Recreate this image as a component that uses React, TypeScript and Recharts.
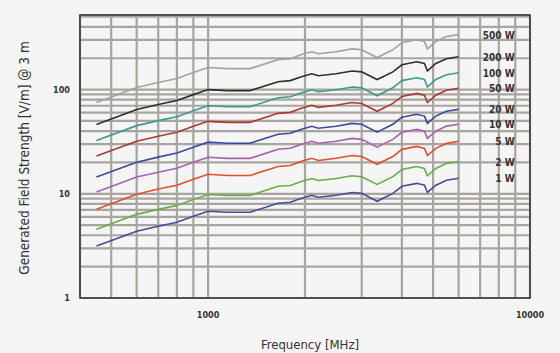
import React from "react";
import { LineChart, Line, XAxis, YAxis, CartesianGrid, ReferenceArea, LabelList } from "recharts";

const frequencies = [450, 600, 700, 800, 900, 1000, 1150, 1350, 1650, 1800, 1950, 2100, 2200, 2500, 2800, 3000, 3350, 3750, 4000, 4450, 4700, 4800, 5100, 5500, 6000];

const w1 = [3.15, 4.38, 4.89, 5.34, 6.09, 6.8, 6.65, 6.65, 8.11, 8.29, 9.06, 9.68, 9.26, 9.68, 10.3, 10.1, 8.48, 10.1, 11.8, 12.6, 12.1, 10.3, 12.1, 13.5, 14.1];
const w2 = [4.57, 6.35, 7.09, 7.74, 8.83, 9.86, 9.64, 9.64, 11.8, 12.0, 13.1, 14.0, 13.4, 14.0, 14.9, 14.6, 12.3, 14.6, 17.1, 18.3, 17.5, 14.9, 17.5, 19.6, 20.4];
const w5 = [7.12, 9.9, 11.1, 12.1, 13.8, 15.4, 15.0, 15.0, 18.3, 18.7, 20.5, 21.9, 20.9, 21.9, 23.3, 22.8, 19.2, 22.8, 26.7, 28.5, 27.3, 23.3, 27.3, 30.5, 31.9];
const w10 = [10.4, 14.5, 16.1, 17.6, 20.1, 22.4, 21.9, 21.9, 26.8, 27.4, 29.9, 31.9, 30.6, 31.9, 34.0, 33.3, 28.0, 33.3, 38.9, 41.6, 39.9, 34.0, 39.9, 44.6, 46.5];
const w20 = [14.5, 20.1, 22.5, 24.6, 28.0, 31.3, 30.6, 30.6, 37.3, 38.1, 41.7, 44.5, 42.6, 44.5, 47.4, 46.5, 39.0, 46.5, 54.3, 58.0, 55.7, 47.4, 55.7, 62.1, 64.9];
const w50 = [23.0, 32.0, 35.7, 39.0, 44.5, 49.6, 48.5, 48.5, 59.2, 60.5, 66.1, 70.7, 67.6, 70.7, 75.2, 73.7, 61.9, 73.7, 86.1, 92.0, 88.3, 75.2, 88.3, 98.6, 103];
const w100 = [32.4, 45.1, 50.4, 55.0, 62.7, 70.0, 68.5, 68.5, 83.5, 85.4, 93.3, 99.7, 95.4, 99.7, 106, 104, 87.3, 104, 122, 130, 125, 106, 125, 139, 145];
const w200 = [46.3, 64.4, 71.9, 78.5, 89.5, 100, 97.8, 97.8, 119, 122, 133, 142, 136, 142, 151, 148, 125, 148, 173, 185, 178, 151, 178, 198, 207];
const w500 = [75.3, 105, 117, 128, 146, 163, 159, 159, 194, 198, 217, 231, 221, 231, 246, 241, 203, 241, 282, 301, 289, 246, 289, 323, 337];

const seriesNames = ["1 W", "2 W", "5 W", "10 W", "20 W", "50 W", "100 W", "200 W", "500 W"];
const seriesValues = [w1, w2, w5, w10, w20, w50, w100, w200, w500];
const seriesColors = ["#4a4a98", "#6aab4a", "#e0502e", "#a862a8", "#3b4b9c", "#a83a30", "#3d9a90", "#2e2e2e", "#a2a2a2"];

const xTicks = [400, 500, 600, 700, 800, 900, 1000, 2000, 3000, 4000, 5000, 6000, 7000, 8000, 9000, 10000];
const xLabels = [1000, 10000];
const yTicks = [1, 2, 3, 4, 5, 6, 7, 8, 9, 10, 20, 30, 40, 50, 60, 70, 80, 90, 100, 200, 300, 400, 500];
const yLabels = [1, 10, 100];

const yTitle = "Generated Field Strength [V/m] @ 3 m";
const xTitle = "Frequency [MHz]";

const data = frequencies.map((f, i) => {
  const row: Record<string, number> = { f };
  seriesNames.forEach((name, k) => {
    row[name] = seriesValues[k][i];
  });
  return row;
});

const FONT = "'Liberation Sans Narrow', 'DejaVu Sans Condensed', 'Roboto Condensed', sans-serif";

const XTick = (props: any) => {
  const { x, y, payload } = props;
  if (!xLabels.includes(payload.value)) return null;
  return (
    <text x={x} y={y + 12} textAnchor="middle" fontSize={9} fontWeight="bold" fill="#333" fontFamily={FONT}>
      {payload.value}
    </text>
  );
};

const YTick = (props: any) => {
  const { x, y, payload } = props;
  if (!yLabels.includes(payload.value)) return null;
  return (
    <text x={x - 2} y={y + 3} textAnchor="end" fontSize={9} fontWeight="bold" fill="#333" fontFamily={FONT}>
      {payload.value}
    </text>
  );
};

const makeEndLabel = (name: string) => (props: any) => {
  const { x, y, index } = props;
  if (index !== frequencies.length - 1) return null;
  return (
    <text x={x + 56} y={y + 4} textAnchor="end" fontSize={10} fontWeight="bold" fill="#333" fontFamily={FONT}>
      {name}
    </text>
  );
};

export default function App() {
  return (
    <div style={{ position: "absolute", left: 0, top: 0, width: 560, height: 353, background: "#f5f5f5", fontFamily: FONT }}>
      <LineChart width={560} height={353} data={data} margin={{ top: 15, right: 30, left: 20, bottom: 25 }}>
        <CartesianGrid stroke="#a8a5a0" strokeWidth={2.2} />
        <XAxis
          dataKey="f"
          type="number"
          scale="log"
          domain={[400, 10000]}
          ticks={xTicks}
          interval={0}
          allowDataOverflow
          axisLine={false}
          tickLine={false}
          height={30}
          tick={<XTick />}
        />
        <YAxis
          type="number"
          scale="log"
          domain={[1, 520]}
          ticks={yTicks}
          interval={0}
          allowDataOverflow
          axisLine={false}
          tickLine={false}
          width={60}
          tick={<YTick />}
        />
        <ReferenceArea x1={400} x2={10000} y1={1} y2={520} fill="none" stroke="#333" strokeWidth={1.5} ifOverflow="visible" />
        {seriesNames.map((name, k) => (
          <Line
            key={name}
            dataKey={name}
            stroke={seriesColors[k]}
            strokeWidth={1.6}
            dot={false}
            isAnimationActive={false}
          >
            <LabelList dataKey={name} content={makeEndLabel(name)} />
          </Line>
        ))}
      </LineChart>
      <svg width={560} height={353} style={{ position: "absolute", left: 0, top: 0, pointerEvents: "none" }}>
        <text
          x={29}
          y={158}
          transform="rotate(-90, 29, 158)"
          textAnchor="middle"
          fontSize={13.5}
          fill="#333"
          fontFamily={FONT}
        >
          {yTitle}
        </text>
        <text x={310} y={349} textAnchor="middle" fontSize={13} fill="#333" fontFamily={FONT}>
          {xTitle}
        </text>
      </svg>
    </div>
  );
}
